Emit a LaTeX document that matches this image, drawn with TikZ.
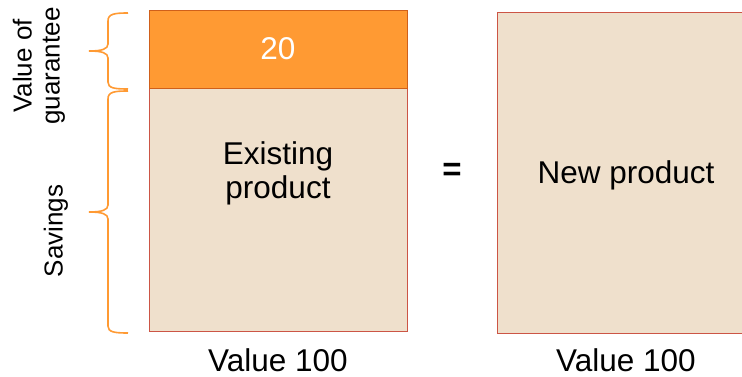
\documentclass[tikz,border=0pt]{standalone}
\usepackage{fontspec}
\setmainfont{Liberation Sans}
\definecolor{orng}{HTML}{FF9A33}
\definecolor{beige}{HTML}{EFE0CC}
\definecolor{boxline}{HTML}{CC5545}
\definecolor{orline}{HTML}{D0601A}
\definecolor{brc}{HTML}{FF9A33}
\begin{document}
\begin{tikzpicture}[x=1pt,y=-1pt,
  blk/.style={draw=boxline,line width=1pt,fill=beige,inner sep=0pt,anchor=north west},
  big/.style={font=\fontsize{31.5}{34}\selectfont,align=center,inner sep=0pt},
  side/.style={font=\fontsize{26}{28}\selectfont,align=center,inner sep=0pt,rotate=90},
  brace/.style={draw=brc,line width=1.6pt}]
\clip (0,0) rectangle (742,377);
\fill[white] (0,0) rectangle (742,377);
% boxes
\node[blk,minimum width=258pt,minimum height=243pt] (sav) at (149,88) {};
\node[blk,draw=orline,fill=orng,minimum width=258pt,minimum height=78pt] (gua) at (149,10) {};
\node[blk,minimum width=250pt,minimum height=321pt] (new) at (497,12) {};
% texts
\node[big,text=white] (t20) at (278,49) {20};
\node[big] (ex) at (278,173) {Existing\\product};
\node[big,font=\fontsize{33}{34}\selectfont\bfseries] (eq) at (452,172) {=};
\node[big] (np) at (626,175) {New product};
\node[big] (v1) at (278,360) {Value 100};
\node[big] (v2) at (626,360) {Value 100};
\node[side] (vg) at (39,66) {Value of\\guarantee};
\node[side] (sv) at (56,231) {Savings};
% braces
\draw[brace] (128,13) .. controls (114,13) and (108,14) .. (108,21) -- (108,44)
  .. controls (108,49) and (102,51) .. (89,51)
  .. controls (102,51) and (108,53) .. (108,58) -- (108,82)
  .. controls (108,88) and (114,89) .. (128,89);
\draw[brace] (128,91) .. controls (114,91) and (108,92) .. (108,99) -- (108,205)
  .. controls (108,210) and (102,212) .. (89,212)
  .. controls (102,212) and (108,214) .. (108,219) -- (108,326)
  .. controls (108,332) and (114,333) .. (128,333);
\end{tikzpicture}
\end{document}
